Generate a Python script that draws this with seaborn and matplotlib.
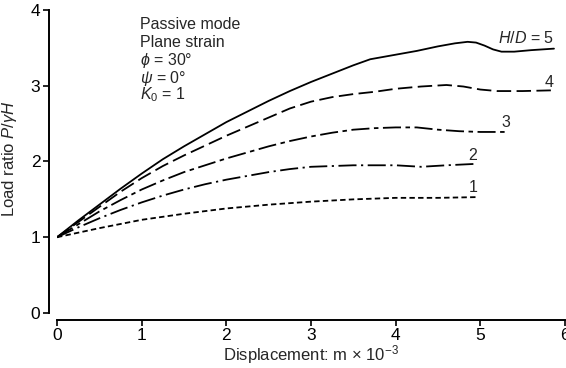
import numpy as np
import pandas as pd
import matplotlib
matplotlib.use("Agg")
import matplotlib.pyplot as plt
import seaborn as sns

# Load-displacement curves, passive mode, plane strain
x_hd5 = [0, 0.25, 0.5, 0.75, 1.0, 1.25, 1.5, 1.75, 2.0, 2.25, 2.5, 2.75, 3.0, 3.25, 3.5,
         3.7, 3.85, 4.0, 4.25, 4.5, 4.7, 4.85, 4.95, 5.05, 5.15, 5.25, 5.4, 5.6, 5.87]
y_hd5 = [1, 1.22, 1.43, 1.64, 1.84, 2.03, 2.20, 2.36, 2.52, 2.66, 2.80, 2.93, 3.05, 3.16, 3.27,
         3.35, 3.38, 3.41, 3.46, 3.52, 3.56, 3.58, 3.57, 3.53, 3.48, 3.45, 3.45, 3.47, 3.49]

x_hd4 = [0, 0.25, 0.5, 0.75, 1.0, 1.25, 1.5, 1.75, 2.0, 2.25, 2.5, 2.75, 3.0, 3.25, 3.5,
         3.75, 4.0, 4.3, 4.6, 4.8, 5.0, 5.2, 5.5, 5.87]
y_hd4 = [1, 1.20, 1.40, 1.60, 1.78, 1.94, 2.08, 2.21, 2.34, 2.46, 2.58, 2.70, 2.79, 2.85, 2.89,
         2.92, 2.96, 2.99, 3.01, 2.99, 2.95, 2.93, 2.93, 2.94]

x_hd3 = [0, 0.25, 0.5, 0.75, 1.0, 1.25, 1.5, 1.75, 2.0, 2.25, 2.5, 2.75, 3.0, 3.25, 3.5,
         3.75, 4.0, 4.25, 4.5, 4.75, 5.0, 5.34]
y_hd3 = [1, 1.17, 1.34, 1.49, 1.63, 1.75, 1.86, 1.95, 2.04, 2.12, 2.20, 2.27, 2.33, 2.38, 2.42,
         2.44, 2.45, 2.45, 2.42, 2.40, 2.39, 2.39]

x_hd2 = [0, 0.25, 0.5, 0.75, 1.0, 1.25, 1.5, 1.75, 2.0, 2.25, 2.5, 2.75, 3.0, 3.5, 4.0,
         4.3, 4.6, 4.97]
y_hd2 = [1, 1.13, 1.25, 1.36, 1.46, 1.55, 1.63, 1.70, 1.76, 1.81, 1.86, 1.90, 1.93, 1.95, 1.95,
         1.93, 1.95, 1.97]

x_hd1 = [0, 0.5, 1.0, 1.5, 2.0, 2.5, 3.0, 3.5, 4.0, 4.5, 4.97]
y_hd1 = [1, 1.12, 1.23, 1.31, 1.38, 1.43, 1.47, 1.50, 1.52, 1.52, 1.53]

ratios = ["5", "4", "3", "2", "1"]
curve_labels = [r"$H/D$ = 5", "4", "3", "2", "1"]

frames = []
for hd, xs, ys in zip(ratios,
                      [x_hd5, x_hd4, x_hd3, x_hd2, x_hd1],
                      [y_hd5, y_hd4, y_hd3, y_hd2, y_hd1]):
    frames.append(pd.DataFrame({"disp": xs, "load": ys, "hd": hd}))
df = pd.concat(frames, ignore_index=True)

sns.set_style("ticks")
plt.rcParams["font.family"] = ["Liberation Sans", "DejaVu Sans"]
plt.rcParams["mathtext.fontset"] = "custom"
plt.rcParams["mathtext.rm"] = "Liberation Sans"
plt.rcParams["mathtext.it"] = "Liberation Sans:italic"
plt.rcParams["mathtext.bf"] = "Liberation Sans:bold"

fig = plt.figure(figsize=(5.66, 3.68), dpi=100)
ax = fig.add_axes([0.1007, 0.1495, 0.8975, 0.8233])

line_dashes = {
    "5": "",
    "4": (8, 3),
    "3": (10, 2.5, 2.5, 2.5),
    "2": (10, 2.5, 1.2, 2.5),
    "1": (3, 1.8),
}

sns.lineplot(data=df, x="disp", y="load", style="hd", dashes=line_dashes,
             color="black", linewidth=1.3, estimator=None, sort=False,
             legend=False, ax=ax)
for ln in ax.lines:
    ln.set_solid_joinstyle("round")
    ln.set_dash_joinstyle("round")

ax.set_xlim(0, 6)
ax.set_ylim(0, 4)
ax.set_xticks(range(0, 7))
ax.set_yticks(range(0, 5))

sns.despine(ax=ax, offset={"left": 6, "bottom": 5})
for side in ("left", "bottom"):
    ax.spines[side].set_linewidth(1.4)
    ax.spines[side].set_color("black")
ax.tick_params(axis="both", direction="out", length=4, width=1.2,
               labelsize=12.5, colors="black", pad=2)

ax.set_xlabel(r"Displacement: m $\times$ 10$^{-3}$", fontsize=12, labelpad=0)
ax.set_ylabel(r"Load ratio $P/\gamma H$", fontsize=12, labelpad=2)
ax.yaxis.set_label_coords(-0.075, 0.51)

# Analysis parameters
params = ["Passive mode", "Plane strain", r"$\phi$ = 30°", r"$\psi$ = 0°",
          r"$K_{\mathrm{0}}$ = 1"]
param_y = [3.75, 3.51, 3.27, 3.04, 2.82]
for txt, yy in zip(params, param_y):
    ax.text(0.98, yy, txt, fontsize=11.5, ha="left", va="baseline")

# Curve labels
label_pos = [(5.87, 3.56, "right"), (5.81, 2.98, "center"), (5.30, 2.46, "center"),
             (4.91, 2.02, "center"), (4.92, 1.60, "center")]
for txt, (lx, ly, ha) in zip(curve_labels, label_pos):
    ax.text(lx, ly, txt, fontsize=11.5, ha=ha, va="baseline")

fig.savefig("out.png", dpi=100)
